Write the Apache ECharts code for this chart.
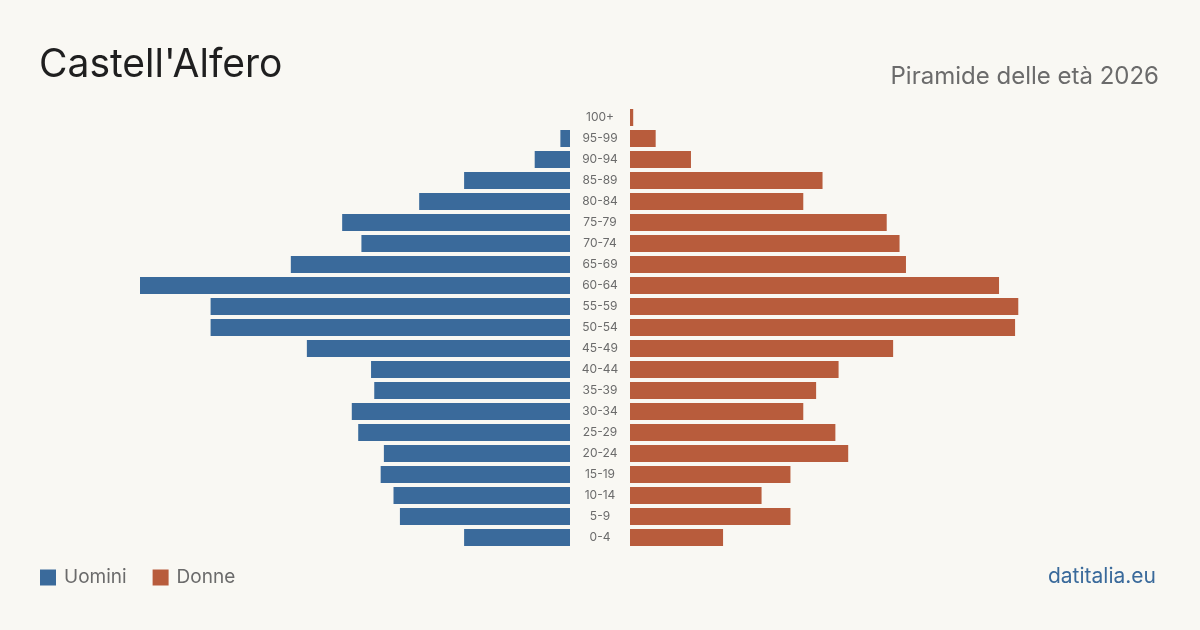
<!DOCTYPE html>
<html>
<head>
    <meta charset="utf-8">
    <title>Castell'Alfero - Piramide delle età 2026</title>
    <script src="https://cdn.jsdelivr.net/npm/echarts@6.0.0/dist/echarts.min.js"></script>
    <style>
        html, body { margin: 0; padding: 0; background: #f9f8f3; }
        #main { width: 1200px; height: 630px; }
    </style>
</head>
<body>
    <div id="main"></div>
    <script type="text/javascript">
        // fasce d'età, dal basso verso l'alto
        var ageGroups = ['0-4', '5-9', '10-14', '15-19', '20-24', '25-29', '30-34', '35-39', '40-44', '45-49',
            '50-54', '55-59', '60-64', '65-69', '70-74', '75-79', '80-84', '85-89', '90-94', '95-99', '100+'];
        var uomini = [33, 53, 55, 59, 58, 66, 68, 61, 62, 82, 112, 112, 134, 87, 65, 71, 47, 33, 11, 3, 0];
        var donne = [29, 50, 41, 50, 68, 64, 54, 58, 65, 82, 120, 121, 115, 86, 84, 80, 54, 60, 19, 8, 1];

        var maxVal = 134;
        var fontFamily = 'Inter, "Noto Sans", sans-serif';

        var chart = echarts.init(document.getElementById('main'));

        var option = {
            backgroundColor: '#f9f8f3',
            textStyle: { fontFamily: fontFamily },
            title: [
                {
                    text: "Castell'Alfero",
                    left: 39,
                    top: 46,
                    padding: 0,
                    textStyle: { fontSize: 39, fontWeight: 'normal', color: '#1f1f1f', fontFamily: fontFamily }
                },
                {
                    text: 'Piramide delle età 2026',
                    right: 41,
                    top: 65,
                    padding: 0,
                    textStyle: { fontSize: 24, fontWeight: 'normal', color: '#6b6b6b', fontFamily: fontFamily }
                },
                {
                    text: 'datitalia.eu',
                    right: 44,
                    top: 566,
                    padding: 0,
                    textStyle: { fontSize: 21, fontWeight: 'normal', color: '#3a6a9b', fontFamily: fontFamily }
                }
            ],
            legend: {
                left: 40,
                top: 568,
                padding: 0,
                icon: 'rect',
                itemWidth: 16,
                itemHeight: 16,
                itemGap: 26,
                textStyle: { fontSize: 19, color: '#6b6b6b', fontFamily: fontFamily, padding: [0, 0, 0, 3] },
                data: ['Uomini', 'Donne']
            },
            grid: [
                { left: 140, width: 430, top: 107, height: 441 },
                { left: 630, width: 430, top: 107, height: 441 }
            ],
            xAxis: [
                { gridIndex: 0, type: 'value', min: 0, max: maxVal, inverse: true, show: false },
                { gridIndex: 1, type: 'value', min: 0, max: maxVal, show: false }
            ],
            yAxis: [
                {
                    gridIndex: 0,
                    type: 'category',
                    data: ageGroups,
                    position: 'right',
                    axisLine: { show: false },
                    axisTick: { show: false },
                    axisLabel: { margin: 30, align: 'center', fontSize: 12, color: '#6b6b6b', fontFamily: fontFamily }
                },
                {
                    gridIndex: 1,
                    type: 'category',
                    data: ageGroups,
                    show: false
                }
            ],
            series: [
                {
                    name: 'Uomini',
                    type: 'bar',
                    xAxisIndex: 0,
                    yAxisIndex: 0,
                    barWidth: 17,
                    itemStyle: { color: '#3a6a9b' },
                    data: uomini
                },
                {
                    name: 'Donne',
                    type: 'bar',
                    xAxisIndex: 1,
                    yAxisIndex: 1,
                    barWidth: 17,
                    itemStyle: { color: '#b85c3c' },
                    data: donne
                }
            ]
        };

        chart.setOption(option);
    </script>
</body>
</html>
